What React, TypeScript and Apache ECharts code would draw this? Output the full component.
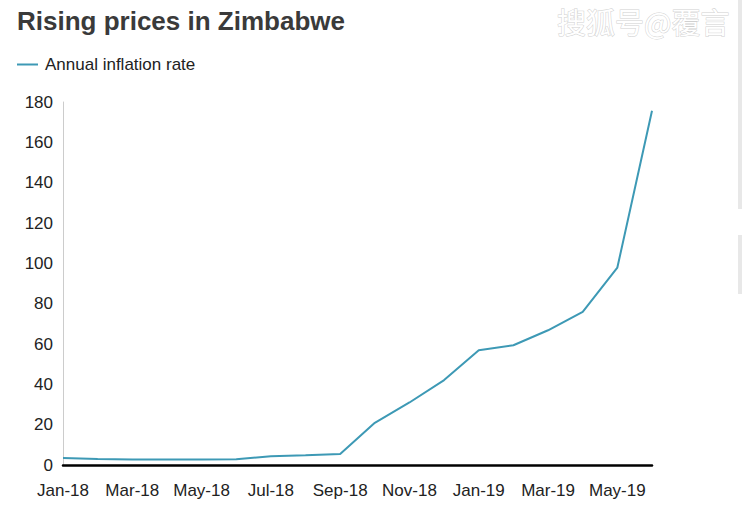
import React, { useEffect, useRef } from "react";
import * as echarts from "echarts";

const months = [
  "Jan-18", "Feb-18", "Mar-18", "Apr-18", "May-18", "Jun-18", "Jul-18", "Aug-18", "Sep-18",
  "Oct-18", "Nov-18", "Dec-18", "Jan-19", "Feb-19", "Mar-19", "Apr-19", "May-19", "Jun-19",
];
const inflation = [3.5, 3.0, 2.7, 2.7, 2.7, 2.9, 4.3, 4.8, 5.4, 20.9, 31.0, 42.1, 56.9, 59.4, 66.8, 75.9, 97.9, 175.7];
const seriesName = "Annual inflation rate";
const titleText = "Rising prices in Zimbabwe";
const watermark = "搜狐号@覆言";

export default function App() {
  const ref = useRef<HTMLDivElement>(null);
  useEffect(() => {
    const chart = echarts.init(ref.current!, null, { renderer: "svg" });
    const font = "'Liberation Sans', Arial, sans-serif";
    chart.setOption({
      animation: false,
      backgroundColor: "#fff",
      title: {
        text: titleText,
        left: 12,
        top: 3,
        textStyle: { fontFamily: font, fontSize: 26, fontWeight: "bold", color: "#3a3a3a" },
      },
      legend: {
        left: 12,
        top: 51,
        icon: "rect",
        itemWidth: 21,
        itemHeight: 2,
        data: [seriesName],
        textStyle: { fontFamily: font, fontSize: 17, color: "#222", padding: [0, 0, 0, 2] },
      },
      grid: { left: 63, right: 90, top: 102, bottom: 42, containLabel: false },
      xAxis: {
        type: "category",
        data: months,
        boundaryGap: false,
        axisLine: { show: true, lineStyle: { color: "#000", width: 2.5 } },
        axisTick: { show: false },
        axisLabel: { interval: 1, margin: 17, fontFamily: font, fontSize: 17, color: "#222" },
        splitLine: { show: false },
      },
      yAxis: {
        type: "value",
        min: 0,
        max: 180,
        interval: 20,
        axisLine: { show: true, lineStyle: { color: "#cccccc", width: 1 } },
        axisTick: { show: false },
        axisLabel: { margin: 10, fontFamily: font, fontSize: 17, color: "#222" },
        splitLine: { show: false },
      },
      series: [
        {
          name: seriesName,
          type: "line",
          data: inflation,
          symbol: "none",
          lineStyle: { color: "#3d99b5", width: 2 },
          itemStyle: { color: "#3d99b5" },
          z: 1,
        },
      ],
      graphic: [
        { type: "rect", shape: { x: 738, y: 0, width: 4, height: 209 }, style: { fill: "#e8e8e8" } },
        { type: "rect", shape: { x: 738, y: 235, width: 4, height: 59 }, style: { fill: "#e8e8e8" } },
        {
          type: "text",
          x: 557,
          y: 6,
          style: {
            text: watermark,
            font: "29px 'Noto Sans CJK SC', sans-serif",
            fill: "#ffffff",
            stroke: "#d0d0d0",
            lineWidth: 1,
            shadowColor: "rgba(0,0,0,0.45)",
            shadowBlur: 4,
          },
        },
      ],
    });
    return () => chart.dispose();
  }, []);
  return (
    <div
      ref={ref}
      style={{ position: "absolute", left: 0, top: 0, width: 742, height: 507 }}
    />
  );
}
